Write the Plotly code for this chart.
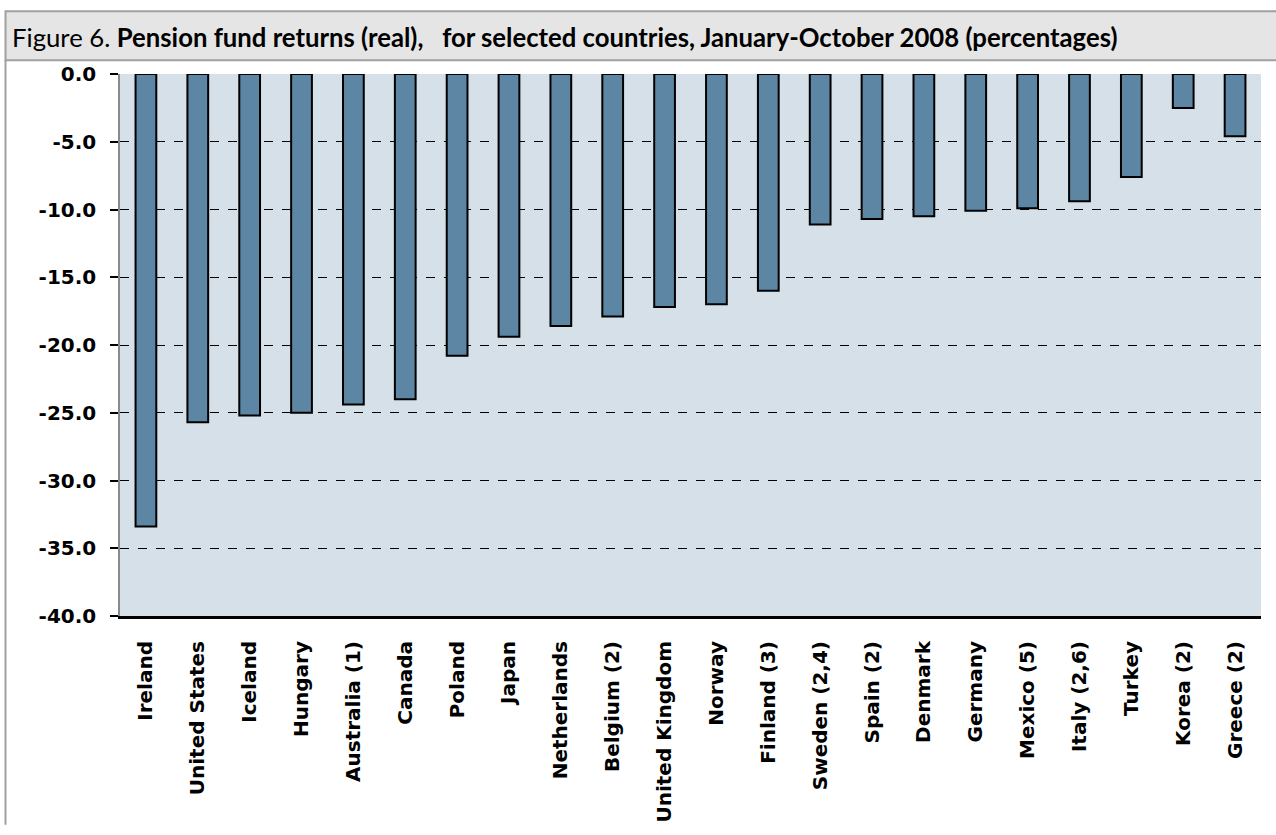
import plotly.graph_objects as go

countries = ["Ireland", "United States", "Iceland", "Hungary", "Australia (1)", "Canada",
             "Poland", "Japan", "Netherlands", "Belgium (2)", "United Kingdom", "Norway",
             "Finland (3)", "Sweden (2,4)", "Spain (2)", "Denmark", "Germany", "Mexico (5)",
             "Italy (2,6)", "Turkey", "Korea (2)", "Greece (2)"]
returns = [-33.4, -25.7, -25.2, -25.0, -24.4, -24.0,
           -20.8, -19.4, -18.6, -17.9, -17.2, -17.0,
           -16.0, -11.1, -10.7, -10.5, -10.1, -9.9,
           -9.4, -7.6, -2.5, -4.6]
y_tickvals = [0, -5, -10, -15, -20, -25, -30, -35, -40]
y_ticktext = ["0.0", "-5.0", "-10.0", "-15.0", "-20.0", "-25.0", "-30.0", "-35.0", "-40.0"]
title_text = ("Figure 6. <b>Pension fund returns (real),\u00a0\u00a0\u00a0for selected countries, "
              "January-October 2008 (percentages)</b>")

W, H = 1276, 835
L, R, T, B = 120, 15, 74, 208
pw, ph = W - L - R, H - T - B

def px_x(p):
    return (p - L) / pw

def px_y(p):
    return (H - B - p) / ph

n = len(countries)

fig = go.Figure()
fig.add_trace(go.Bar(
    x=countries, y=returns, width=0.4,
    marker=dict(color="#5c86a3", line=dict(color="#000000", width=2)),
    showlegend=False, hoverinfo="x+y",
))

fig.update_layout(
    width=W, height=H,
    margin=dict(l=L, r=R, t=T, b=B),
    paper_bgcolor="white",
    plot_bgcolor="#d6e0e9",
    xaxis=dict(
        type="category", range=[-0.5, n - 0.5],
        tickangle=-90,
        tickfont=dict(family="DejaVu Sans", size=20, color="black", weight="bold"),
        showline=True, linecolor="black", linewidth=3,
        ticks="", ticklabelstandoff=14,
        showgrid=False, zeroline=False,
    ),
    xaxis2=dict(
        overlaying="x", side="top", anchor="y",
        range=[-0.5, n - 0.5],
        tickvals=[i + 0.5 for i in range(n - 1)],
        ticks="inside", ticklen=6, tickwidth=1, tickcolor="#444",
        showline=True, linecolor="#555", linewidth=1,
        showticklabels=False, showgrid=False, zeroline=False,
    ),
    yaxis=dict(
        range=[-40, 0],
        tickvals=y_tickvals, ticktext=y_ticktext,
        tickfont=dict(family="DejaVu Sans", size=20, color="black", weight="bold"),
        ticks="outside", ticklen=8, tickwidth=2, tickcolor="black",
        ticklabelstandoff=10,
        showline=True, linecolor="#8a8a8a", linewidth=1.5,
        showgrid=True, gridcolor="#000000", gridwidth=1, griddash="dash",
        zeroline=False,
    ),
    shapes=[
        dict(type="rect", xref="paper", yref="paper",
             x0=px_x(5.5), x1=px_x(1290), y0=px_y(60), y1=px_y(10),
             fillcolor="#e5e5e5", line=dict(color="#a0a0a0", width=2), layer="below"),
        dict(type="line", xref="paper", yref="paper",
             x0=px_x(5.5), x1=px_x(5.5), y0=px_y(60), y1=px_y(840),
             line=dict(color="#a0a0a0", width=2)),
    ],
    annotations=[
        dict(text=title_text, xref="paper", yref="paper",
             x=px_x(10), y=px_y(36), xanchor="left", yanchor="middle",
             showarrow=False,
             font=dict(family="Lato", size=25.7, color="black")),
    ],
)

fig.write_html("out.html", config={"displayModeBar": False},
               post_script="document.body.style.margin='0px';")
